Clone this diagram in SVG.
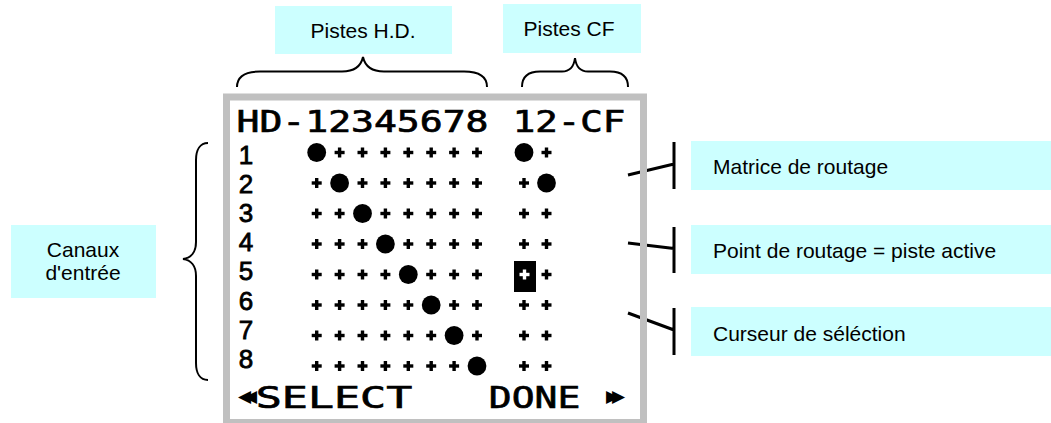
<svg xmlns="http://www.w3.org/2000/svg" xmlns:xlink="http://www.w3.org/1999/xlink" width="1051" height="423" viewBox="0 0 1051 423">
<style>
.lcd{font-family:"DejaVu Sans Mono","Liberation Mono",monospace;fill:#000;stroke:#000;stroke-width:0.7}
.num{font-family:"Liberation Sans",Arial,sans-serif;font-size:26px;fill:#000;stroke:#000;stroke-width:0.8}
.sym{font-family:"DejaVu Sans",sans-serif;fill:#000}
.lbl{font-family:"Liberation Sans",Arial,sans-serif;font-size:21px;fill:#000}
.box{fill:#ccffff}
.brace{fill:none;stroke:#000;stroke-width:2}
.call{fill:none;stroke:#000;stroke-width:3}
.frame{fill:none;stroke:#c0c0c0;stroke-width:7}
</style>
<defs>
<g id="p"><rect x="-5" y="-1.7" width="10" height="3.4"/><rect x="-1.7" y="-5" width="3.4" height="10"/></g>
<circle id="d" r="9.4"/>
</defs>
<rect width="1051" height="423" fill="#fff"/>

<g id="label-pistes-hd">
<rect class="box" x="275" y="6" width="177" height="48"/>
<text class="lbl" x="363" y="37.7" text-anchor="middle">Pistes H.D.</text>
</g>
<g id="label-pistes-cf">
<rect class="box" x="503" y="4" width="138" height="49"/>
<text class="lbl" x="569" y="36" text-anchor="middle">Pistes CF</text>
</g>
<g id="label-canaux">
<rect class="box" x="11" y="225" width="145" height="73"/>
<text class="lbl" x="83" y="256.7" text-anchor="middle">Canaux</text>
<text class="lbl" x="83" y="280" text-anchor="middle">d'entrée</text>
</g>
<g id="label-matrice">
<rect class="box" x="691" y="141" width="360" height="49"/>
<text class="lbl" x="713" y="174">Matrice de routage</text>
</g>
<g id="label-point">
<rect class="box" x="691" y="225" width="360" height="49"/>
<text class="lbl" x="713" y="258.3">Point de routage = piste active</text>
</g>
<g id="label-curseur">
<rect class="box" x="691" y="307" width="360" height="49"/>
<text class="lbl" x="713" y="341">Curseur de séléction</text>
</g>

<g id="connectors">
<path class="brace" d="M237,87 C237,76 245,71.5 260,71.5 L342,71.5 C355,71.5 361,66 363,57 C365,66 371,71.5 384,71.5 L464,71.5 C479,71.5 487,76 487,87"/>
<path class="brace" d="M522,87 C522,77 528,71.5 540,71.5 L562,71.5 C570,71.5 574,66 575,58 C576,66 580,71.5 588,71.5 L610,71.5 C622,71.5 628,77 628,87"/>
<path class="brace" d="M208,143 C200,143 196,150 196,160 L196,242 C196,252 191,258 183,259 C191,260 196,266 196,276 L196,363 C196,373 200,380 208,380"/>
<path class="call" d="M628,175 L674,164 M674,142 V189"/>
<path class="call" d="M628,243 L674,248.5 M674,227 V273"/>
<path class="call" d="M628,313 L674,330 M674,308 V355"/>
</g>

<g id="lcd">
<rect class="frame" x="226.5" y="97" width="417" height="325.5"/>
<text class="lcd" x="236.5" y="131.7" font-size="30" textLength="252" lengthAdjust="spacingAndGlyphs">HD-12345678</text>
<text class="lcd" x="512.75" y="131.7" font-size="30" textLength="112.5" lengthAdjust="spacingAndGlyphs">12-CF</text>
<g class="num" text-anchor="middle">
<text x="246" y="163.5">1</text>
<text x="246" y="192.7">2</text>
<text x="246" y="221.9">3</text>
<text x="246" y="251.1">4</text>
<text x="246" y="280.3">5</text>
<text x="246" y="309.5">6</text>
<text x="246" y="338.7">7</text>
<text x="246" y="367.9">8</text>
</g>
<g id="matrix">
<!-- row 1 -->
<use xlink:href="#d" x="316.7" y="152.5"/><use xlink:href="#p" x="339.6" y="152.5"/><use xlink:href="#p" x="362.5" y="152.5"/><use xlink:href="#p" x="385.4" y="152.5"/><use xlink:href="#p" x="408.3" y="152.5"/><use xlink:href="#p" x="431.2" y="152.5"/><use xlink:href="#p" x="454.1" y="152.5"/><use xlink:href="#p" x="477" y="152.5"/><use xlink:href="#d" x="524" y="152.5"/><use xlink:href="#p" x="546.5" y="152.5"/>
<!-- row 2 -->
<use xlink:href="#p" x="316.7" y="183"/><use xlink:href="#d" x="339.6" y="183"/><use xlink:href="#p" x="362.5" y="183"/><use xlink:href="#p" x="385.4" y="183"/><use xlink:href="#p" x="408.3" y="183"/><use xlink:href="#p" x="431.2" y="183"/><use xlink:href="#p" x="454.1" y="183"/><use xlink:href="#p" x="477" y="183"/><use xlink:href="#p" x="524" y="183"/><use xlink:href="#d" x="546.5" y="183"/>
<!-- row 3 -->
<use xlink:href="#p" x="316.7" y="213.5"/><use xlink:href="#p" x="339.6" y="213.5"/><use xlink:href="#d" x="362.5" y="213.5"/><use xlink:href="#p" x="385.4" y="213.5"/><use xlink:href="#p" x="408.3" y="213.5"/><use xlink:href="#p" x="431.2" y="213.5"/><use xlink:href="#p" x="454.1" y="213.5"/><use xlink:href="#p" x="477" y="213.5"/><use xlink:href="#p" x="524" y="213.5"/><use xlink:href="#p" x="546.5" y="213.5"/>
<!-- row 4 -->
<use xlink:href="#p" x="316.7" y="244"/><use xlink:href="#p" x="339.6" y="244"/><use xlink:href="#p" x="362.5" y="244"/><use xlink:href="#d" x="385.4" y="244"/><use xlink:href="#p" x="408.3" y="244"/><use xlink:href="#p" x="431.2" y="244"/><use xlink:href="#p" x="454.1" y="244"/><use xlink:href="#p" x="477" y="244"/><use xlink:href="#p" x="524" y="244"/><use xlink:href="#p" x="546.5" y="244"/>
<!-- row 5 -->
<use xlink:href="#p" x="316.7" y="274.5"/><use xlink:href="#p" x="339.6" y="274.5"/><use xlink:href="#p" x="362.5" y="274.5"/><use xlink:href="#p" x="385.4" y="274.5"/><use xlink:href="#d" x="408.3" y="274.5"/><use xlink:href="#p" x="431.2" y="274.5"/><use xlink:href="#p" x="454.1" y="274.5"/><use xlink:href="#p" x="477" y="274.5"/>
<rect x="514" y="261" width="22" height="31" fill="#000"/><use xlink:href="#p" x="524.5" y="274.5" fill="#fff"/><use xlink:href="#p" x="546.5" y="274.5"/>
<!-- row 6 -->
<use xlink:href="#p" x="316.7" y="305"/><use xlink:href="#p" x="339.6" y="305"/><use xlink:href="#p" x="362.5" y="305"/><use xlink:href="#p" x="385.4" y="305"/><use xlink:href="#p" x="408.3" y="305"/><use xlink:href="#d" x="431.2" y="305"/><use xlink:href="#p" x="454.1" y="305"/><use xlink:href="#p" x="477" y="305"/><use xlink:href="#p" x="524" y="305"/><use xlink:href="#p" x="546.5" y="305"/>
<!-- row 7 -->
<use xlink:href="#p" x="316.7" y="335.5"/><use xlink:href="#p" x="339.6" y="335.5"/><use xlink:href="#p" x="362.5" y="335.5"/><use xlink:href="#p" x="385.4" y="335.5"/><use xlink:href="#p" x="408.3" y="335.5"/><use xlink:href="#p" x="431.2" y="335.5"/><use xlink:href="#d" x="454.1" y="335.5"/><use xlink:href="#p" x="477" y="335.5"/><use xlink:href="#p" x="524" y="335.5"/><use xlink:href="#p" x="546.5" y="335.5"/>
<!-- row 8 -->
<use xlink:href="#p" x="316.7" y="366"/><use xlink:href="#p" x="339.6" y="366"/><use xlink:href="#p" x="362.5" y="366"/><use xlink:href="#p" x="385.4" y="366"/><use xlink:href="#p" x="408.3" y="366"/><use xlink:href="#p" x="431.2" y="366"/><use xlink:href="#p" x="454.1" y="366"/><use xlink:href="#d" x="477" y="366"/><use xlink:href="#p" x="524" y="366"/><use xlink:href="#p" x="546.5" y="366"/>
</g>
<text class="sym" x="238" y="402" font-size="17" letter-spacing="-7">◀◀</text>
<text class="lcd" x="255.8" y="408.3" font-size="31" textLength="156.4" lengthAdjust="spacingAndGlyphs">SELECT</text>
<text class="lcd" x="488.8" y="408.3" font-size="31" textLength="91.5" lengthAdjust="spacingAndGlyphs">DONE</text>
<text class="sym" x="606" y="402" font-size="17" letter-spacing="-7">▶▶</text>
</g>
</svg>
